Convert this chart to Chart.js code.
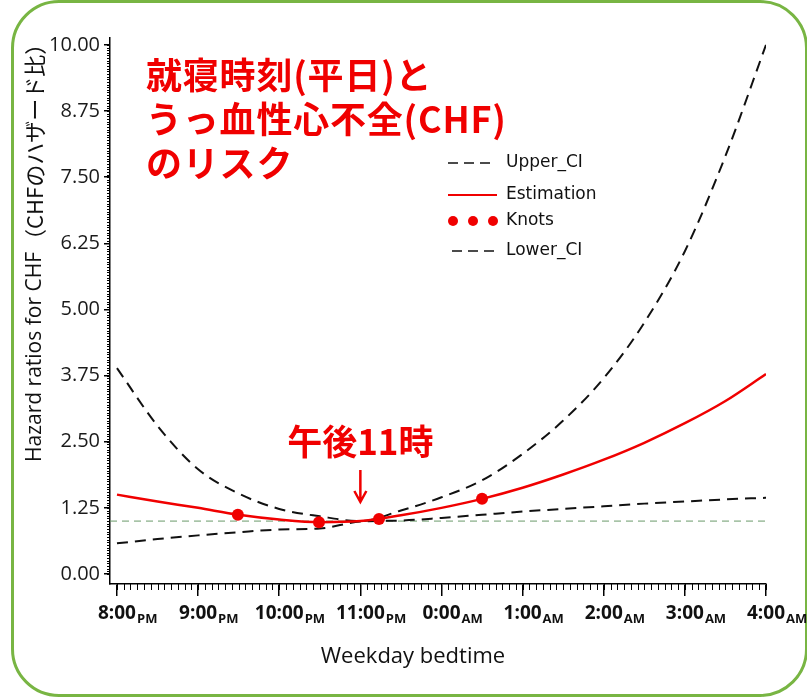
<!DOCTYPE html>
<html>
<head>
<meta charset="utf-8">
<script src="https://cdn.jsdelivr.net/npm/chart.js@4"></script>
<style>
  html, body { margin: 0; padding: 0; background: #fff; }
  #wrap { position: relative; width: 807px; height: 699px; overflow: hidden; }
  #frame { position: absolute; left: 11px; top: 0; width: 791px; height: 691px; border: 3px solid #78b543; border-radius: 48px; }
  canvas { position: absolute; left: 0; top: 0; }
</style>
</head>
<body>
<div id="wrap">
  <div id="frame"></div>
  <canvas id="chart" width="807" height="699"></canvas>
</div>
<script>
// hours after 8:00 PM
const hours = [0, 0.5, 1, 1.5, 2, 2.5, 3, 3.5, 4, 4.5, 5, 5.5, 6, 6.5, 7, 7.5, 8]
const estimation = [1.50, 1.37, 1.25, 1.12, 1.03, 0.98, 1.00, 1.11, 1.25, 1.42, 1.63, 1.88, 2.16, 2.48, 2.85, 3.27, 3.78]
const upperCI = [3.89, 2.80, 1.98, 1.52, 1.23, 1.09, 1.00, 1.20, 1.45, 1.77, 2.27, 2.90, 3.70, 4.75, 6.10, 7.90, 10.00]
const lowerCI = [0.58, 0.66, 0.73, 0.79, 0.84, 0.86, 0.99, 1.01, 1.06, 1.12, 1.18, 1.23, 1.28, 1.33, 1.37, 1.41, 1.44]
const knotHours = [1.49, 2.49, 3.23, 4.5]
const knotValues = [1.12, 0.98, 1.04, 1.42]

const xTicks = [0, 1, 2, 3, 4, 5, 6, 7, 8]
const xTickMain = ['8:00', '9:00', '10:00', '11:00', '0:00', '1:00', '2:00', '3:00', '4:00']
const xTickSub = ['PM', 'PM', 'PM', 'PM', 'AM', 'AM', 'AM', 'AM', 'AM']
const yTicks = [0, 1.25, 2.5, 3.75, 5, 6.25, 7.5, 8.75, 10]

const titleLines = ['就寝時刻(平日)と', 'うっ血性心不全(CHF)', 'のリスク']
const legendLabels = ['Upper_CI', 'Estimation', 'Knots', 'Lower_CI']

const toPoints = (xs, ys) => xs.map((x, i) => ({ x: x, y: ys[i] }))

const RED = '#f00000'
const JP = "'Noto Sans CJK JP', sans-serif"

const minorTicks = {
  id: 'minorTicks',
  afterDraw(chart) {
    const { ctx, chartArea, scales: { x, y } } = chart
    ctx.save()
    ctx.strokeStyle = '#000'
    ctx.lineWidth = 1
    ctx.beginPath()
    for (let i = 0; i <= 200; i++) {
      const py = Math.round(y.getPixelForValue(i * 0.05)) + 0.5
      ctx.moveTo(chartArea.left - 3, py)
      ctx.lineTo(chartArea.left, py)
    }
    for (let i = 0; i <= 96; i++) {
      const px = Math.round(x.getPixelForValue(i / 12)) + 0.5
      ctx.moveTo(px, chartArea.bottom)
      ctx.lineTo(px, chartArea.bottom + 6)
    }
    ctx.stroke()
    ctx.restore()
  }
}

const decor = {
  id: 'decor',
  afterDraw(chart) {
    const { ctx, scales: { x, y } } = chart
    ctx.save()

    // x tick labels with subscript
    ctx.fillStyle = '#111'
    ctx.textBaseline = 'alphabetic'
    xTicks.forEach((v, i) => {
      const px = x.getPixelForValue(v)
      ctx.font = "bold 19px 'Open Sans'"
      const w = ctx.measureText(xTickMain[i]).width
      ctx.textAlign = 'left'
      ctx.fillText(xTickMain[i], px - w / 2, 619)
      ctx.font = "bold 13px 'Open Sans'"
      ctx.fillText(xTickSub[i], px + w / 2 + 1, 623)
    })

    // x title
    ctx.font = "22px 'Open Sans'"
    ctx.textAlign = 'center'
    ctx.textBaseline = 'middle'
    ctx.fillText('Weekday bedtime', 413, 657)

    // y title
    ctx.save()
    ctx.translate(35, 462)
    ctx.rotate(-Math.PI / 2)
    ctx.textAlign = 'left'
    ctx.textBaseline = 'middle'
    ctx.font = "21px 'Open Sans'"
    const en = 'Hazard ratios for CHF'
    ctx.fillText(en, 0, 0)
    const enW = ctx.measureText(en).width
    ctx.font = '22px ' + JP
    ctx.fillText('（CHFのハザード比）', enW + 1, 0)
    ctx.restore()

    // title
    ctx.fillStyle = RED
    ctx.textAlign = 'left'
    ctx.textBaseline = 'middle'
    ctx.font = 'bold 36px ' + JP
    ctx.letterSpacing = '0.8px'
    titleLines.forEach((t, i) => ctx.fillText(t, 146, 75 + i * 44))
    ctx.letterSpacing = '0px'

    // annotation
    const ax = x.getPixelForValue(3)
    ctx.textAlign = 'center'
    ctx.font = 'bold 35px ' + JP
    ctx.fillText('午後11時', ax, 442)
    ctx.strokeStyle = RED
    ctx.lineWidth = 2.5
    ctx.beginPath()
    ctx.moveTo(ax, 470)
    ctx.lineTo(ax, 501)
    ctx.moveTo(ax - 6, 491)
    ctx.lineTo(ax, 502)
    ctx.lineTo(ax + 6, 491)
    ctx.stroke()

    // legend
    ctx.textAlign = 'left'
    ctx.textBaseline = 'middle'
    ctx.font = "17px 'DejaVu Sans'"
    ctx.fillStyle = '#111'
    const rows = [163, 195, 221, 251]
    legendLabels.forEach((t, i) => ctx.fillText(t, 506, rows[i]))
    ctx.strokeStyle = '#111'
    ctx.lineWidth = 1.6
    ctx.setLineDash([10, 6])
    ctx.beginPath()
    ctx.moveTo(448, rows[0]); ctx.lineTo(494, rows[0])
    ctx.moveTo(452, rows[3]); ctx.lineTo(498, rows[3])
    ctx.stroke()
    ctx.setLineDash([])
    ctx.strokeStyle = RED
    ctx.lineWidth = 2
    ctx.beginPath()
    ctx.moveTo(448, rows[1]); ctx.lineTo(497, rows[1])
    ctx.stroke()
    ctx.fillStyle = RED
    ;[453, 473, 493].forEach(cx => {
      ctx.beginPath()
      ctx.arc(cx, rows[2], 5, 0, Math.PI * 2)
      ctx.fill()
    })

    ctx.restore()
  }
}

new Chart(document.getElementById('chart'), {
  type: 'line',
  data: {
    datasets: [
      {
        label: 'Knots',
        data: toPoints(knotHours, knotValues),
        showLine: false,
        pointRadius: 6,
        pointBackgroundColor: RED,
        pointBorderWidth: 0,
        order: 0
      },
      {
        label: 'Estimation',
        data: toPoints(hours, estimation),
        borderColor: RED,
        borderWidth: 2.5,
        pointRadius: 0,
        cubicInterpolationMode: 'monotone',
        order: 1
      },
      {
        label: 'Upper_CI',
        data: toPoints(hours, upperCI),
        borderColor: '#111',
        borderWidth: 2,
        borderDash: [11, 7],
        pointRadius: 0,
        cubicInterpolationMode: 'monotone',
        order: 2
      },
      {
        label: 'Lower_CI',
        data: toPoints(hours, lowerCI),
        borderColor: '#111',
        borderWidth: 2,
        borderDash: [11, 7],
        pointRadius: 0,
        cubicInterpolationMode: 'monotone',
        order: 2
      },
      {
        label: 'ref',
        data: [{ x: -0.086, y: 1 }, { x: 8, y: 1 }],
        borderColor: '#6a9a6a',
        borderWidth: 1,
        borderDash: [7, 5],
        pointRadius: 0,
        order: 3
      }
    ]
  },
  options: {
    responsive: false,
    animation: false,
    layout: { padding: { top: 38, right: 41, left: 0, bottom: 0 } },
    plugins: {
      legend: { display: false },
      tooltip: { enabled: false }
    },
    scales: {
      x: {
        type: 'linear',
        min: -0.086,
        max: 8,
        afterBuildTicks: s => { s.ticks = xTicks.map(v => ({ value: v })) },
        afterFit: s => { s.height = 115 },
        ticks: { callback: () => '' },
        border: { display: true, color: '#000', width: 1.5 },
        grid: { drawOnChartArea: false, tickLength: 12, color: '#000', lineWidth: 1.5 }
      },
      y: {
        min: -0.189,
        max: 10.13,
        afterBuildTicks: s => { s.ticks = yTicks.map(v => ({ value: v })) },
        afterFit: s => { s.width = 110 },
        ticks: {
          callback: v => v.toFixed(2),
          font: { family: 'Open Sans', size: 20 },
          color: '#1a1a1a',
          padding: 4
        },
        border: { display: true, color: '#000', width: 1.5 },
        grid: { drawOnChartArea: false, tickLength: 6, color: '#000', lineWidth: 1.5 }
      }
    }
  },
  plugins: [minorTicks, decor]
})
</script>
</body>
</html>
